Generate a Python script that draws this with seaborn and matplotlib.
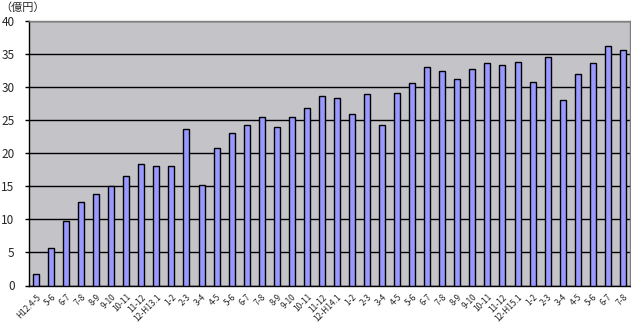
import matplotlib
matplotlib.use("Agg")
import matplotlib.pyplot as plt
import seaborn as sns
import pandas as pd

labels = ["H12.4-5", "5-6", "6-7", "7-8", "8-9", "9-10", "10-11", "11-12", "12-H13.1",
          "1-2", "2-3", "3-4", "4-5", "5-6", "6-7", "7-8", "8-9", "9-10", "10-11", "11-12", "12-H14.1",
          "1-2", "2-3", "3-4", "4-5", "5-6", "6-7", "7-8", "8-9", "9-10", "10-11", "11-12", "12-H15.1",
          "1-2", "2-3", "3-4", "4-5", "5-6", "6-7", "7-8"]
values = [1.7, 5.7, 9.7, 12.7, 13.8, 15.0, 16.5, 18.4, 18.1,
          18.0, 23.7, 15.15, 20.75, 23.0, 24.3, 25.45, 23.9, 25.45, 26.9, 28.6, 28.3,
          26.0, 28.9, 24.3, 29.05, 30.6, 33.0, 32.4, 31.2, 32.7, 33.6, 33.3, 33.8,
          30.75, 34.5, 28.0, 31.95, 33.6, 36.2, 35.6]

df = pd.DataFrame({"pos": list(range(len(values))), "value": values})

sns.set_theme(style="white")
plt.rcParams['font.family'] = ['Noto Sans CJK JP', 'DejaVu Sans']

fig = plt.figure(figsize=(6.31, 3.22), dpi=100)
ax = fig.add_axes([28.5 / 631, 1 - 285.5 / 322, (631 - 28.5) / 631 - 0.001, 264.5 / 322])
ax.set_facecolor("#C4C3C7")

sns.barplot(data=df, x="pos", y="value", color="#9999FF", saturation=1,
            edgecolor="black", linewidth=1.0, width=0.4, ax=ax, zorder=3)

ax.set_ylim(0, 40)
ax.set_yticks(range(0, 41, 5))
ax.yaxis.grid(True, color="black", linewidth=1.0, zorder=1)
ax.set_axisbelow(True)
ax.set_xlim(-0.5, len(values) - 0.5)
ax.set_xticks(range(len(values)))
ax.set_xticklabels(labels, rotation=45, ha="right", rotation_mode="anchor", fontsize=6)
ax.tick_params(axis="y", labelsize=8.5, length=3, width=1, color="black", pad=7, left=True)
ax.tick_params(axis="x", length=0, pad=5)
ax.set_xlabel("")
ax.set_ylabel("")
for s in ["left", "bottom"]:
    ax.spines[s].set_color("black")
    ax.spines[s].set_linewidth(1.0)
for s in ["top", "right"]:
    ax.spines[s].set_color("#808080")
    ax.spines[s].set_linewidth(1.0)

fig.text(0.0, 1 - 8 / 322, "（億円）", fontsize=8, ha="left", va="center")

fig.savefig("out.png", dpi=100, facecolor="white")
